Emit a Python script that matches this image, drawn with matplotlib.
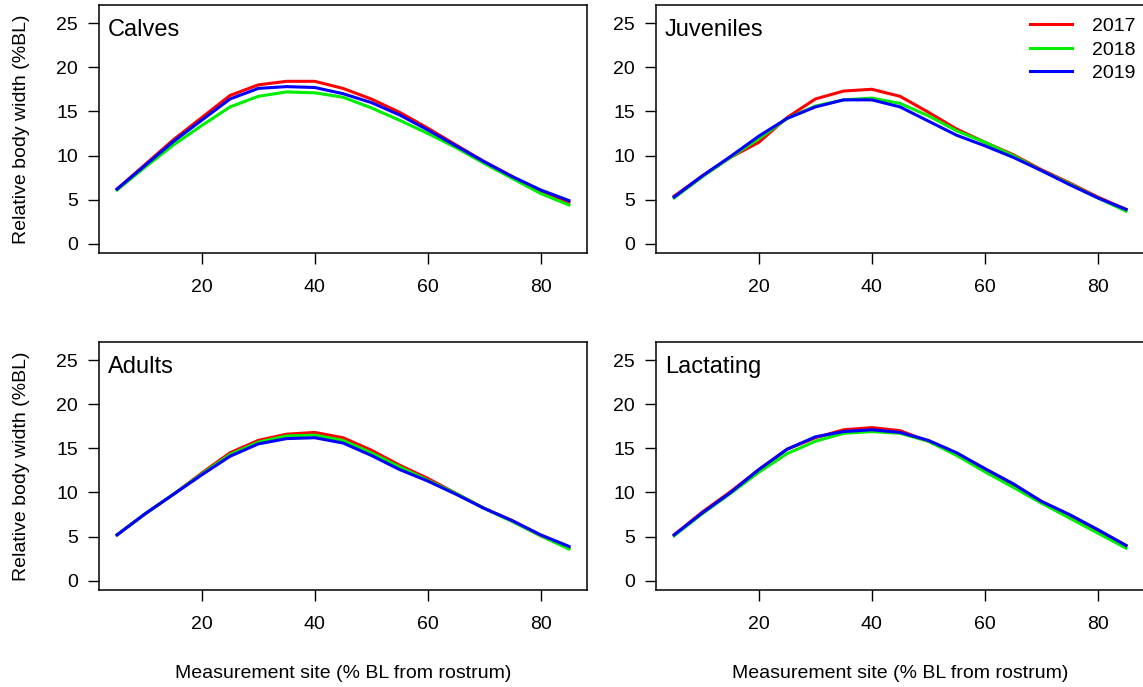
import numpy as np
import matplotlib
matplotlib.use("Agg")
import matplotlib.pyplot as plt

plt.rcParams['font.family'] = ['Liberation Sans', 'DejaVu Sans']

# measurement sites (% BL from rostrum)
sites = [5, 10, 15, 20, 25, 30, 35, 40, 45, 50, 55, 60, 65, 70, 75, 80, 85]
years = ['2017', '2018', '2019']
year_colors = ['#ff0000', '#00ee00', '#0000ff']

# relative body width (%BL) per reproductive class and year
calves_2017 = [6.2, 9.0, 11.8, 14.3, 16.8, 18.0, 18.4, 18.4, 17.6, 16.4, 14.9, 13.1, 11.2, 9.3, 7.6, 6.0, 4.7]
calves_2018 = [6.1, 8.7, 11.2, 13.4, 15.5, 16.7, 17.2, 17.1, 16.6, 15.4, 14.0, 12.5, 10.9, 9.1, 7.4, 5.7, 4.4]
calves_2019 = [6.2, 8.9, 11.6, 14.0, 16.4, 17.6, 17.8, 17.7, 17.0, 16.0, 14.6, 12.9, 11.1, 9.3, 7.6, 6.1, 4.9]

juv_2017 = [5.4, 7.7, 9.8, 11.5, 14.3, 16.4, 17.3, 17.5, 16.7, 14.9, 13.0, 11.5, 10.1, 8.4, 6.9, 5.3, 3.9]
juv_2018 = [5.2, 7.6, 9.8, 11.9, 14.2, 15.6, 16.3, 16.5, 15.9, 14.5, 12.8, 11.5, 10.0, 8.3, 6.8, 5.2, 3.7]
juv_2019 = [5.3, 7.7, 9.9, 12.2, 14.2, 15.5, 16.3, 16.3, 15.5, 13.9, 12.3, 11.1, 9.8, 8.3, 6.7, 5.2, 3.9]

adults_2017 = [5.2, 7.6, 9.8, 12.2, 14.5, 15.9, 16.6, 16.8, 16.2, 14.8, 13.1, 11.6, 9.9, 8.2, 6.8, 5.1, 3.7]
adults_2018 = [5.2, 7.6, 9.8, 12.1, 14.3, 15.7, 16.4, 16.5, 15.9, 14.5, 12.9, 11.4, 9.9, 8.2, 6.7, 5.1, 3.6]
adults_2019 = [5.2, 7.6, 9.8, 12.0, 14.1, 15.5, 16.1, 16.2, 15.6, 14.2, 12.6, 11.3, 9.8, 8.2, 6.8, 5.2, 3.9]

lact_2017 = [5.2, 7.8, 10.1, 12.6, 14.9, 16.2, 17.1, 17.35, 17.0, 15.8, 14.4, 12.7, 10.9, 9.0, 7.4, 5.7, 4.0]
lact_2018 = [5.1, 7.6, 9.9, 12.3, 14.4, 15.8, 16.7, 16.9, 16.7, 15.8, 14.2, 12.35, 10.6, 8.8, 7.1, 5.4, 3.7]
lact_2019 = [5.2, 7.7, 10.0, 12.6, 14.9, 16.3, 16.9, 17.1, 16.8, 15.9, 14.5, 12.7, 11.0, 9.0, 7.5, 5.8, 4.0]

panels = [
    ('Calves', [calves_2017, calves_2018, calves_2019]),
    ('Juveniles', [juv_2017, juv_2018, juv_2019]),
    ('Adults', [adults_2017, adults_2018, adults_2019]),
    ('Lactating', [lact_2017, lact_2018, lact_2019]),
]

fig = plt.figure(figsize=(11.43, 6.87), dpi=100)

# axes boxes in figure fractions (left, bottom, width, height)
boxes = [
    (0.0866, 0.6317, 0.427, 0.361),
    (0.5740, 0.6317, 0.427, 0.361),
    (0.0866, 0.1412, 0.427, 0.361),
    (0.5740, 0.1412, 0.427, 0.361),
]

for i, ((name, series), box) in enumerate(zip(panels, boxes)):
    ax = fig.add_axes(box)
    for vals, yr, col in zip(series, years, year_colors):
        ax.plot(sites, vals, color=col, lw=2.2, label=yr, solid_joinstyle='round')
    ax.set_xlim(1.8, 88.2)
    ax.set_ylim(-1.04, 27.04)
    ax.set_xticks([20, 40, 60, 80])
    ax.set_yticks([0, 5, 10, 15, 20, 25])
    ax.tick_params(direction='out', length=8, width=1, labelsize=14, colors='black')
    ax.tick_params(axis='x', pad=11)
    ax.tick_params(axis='y', pad=7)
    for sp in ax.spines.values():
        sp.set_linewidth(1.1)
    ax.text(0.018, 0.945, name, transform=ax.transAxes, fontsize=17, va='top', ha='left')
    if i % 2 == 0:
        ax.set_ylabel('Relative body width (%BL)', fontsize=14, labelpad=19)
    if i >= 2:
        ax.set_xlabel('Measurement site (% BL from rostrum)', fontsize=14, labelpad=23)
    if i == 1:
        ax.legend(loc='upper right', bbox_to_anchor=(1.0, 0.985), frameon=False,
                  fontsize=14, handlelength=2.2, handletextpad=1.0, labelspacing=0.3,
                  borderaxespad=0.05)

fig.savefig('out.png', dpi=100)
